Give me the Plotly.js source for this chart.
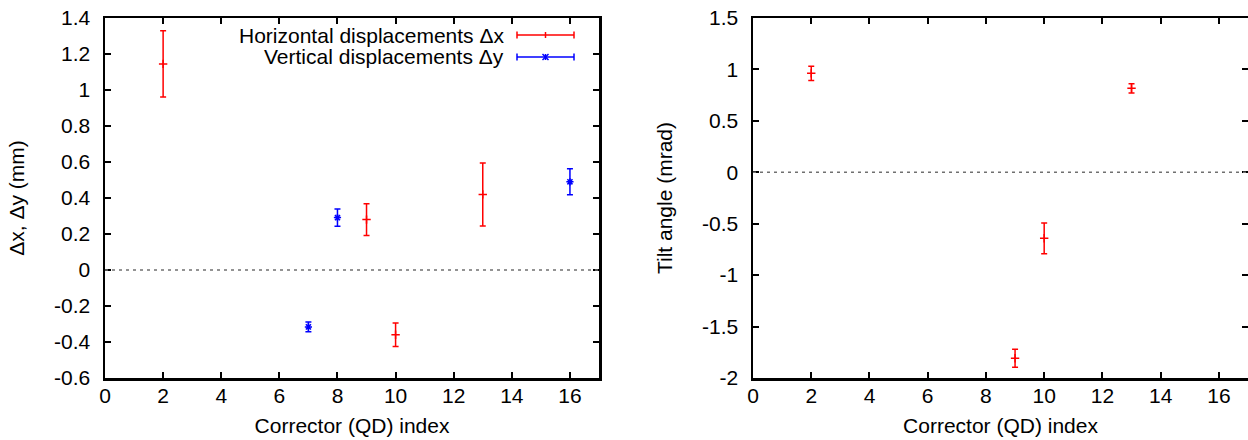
<!DOCTYPE html>
<html><head><meta charset="utf-8">
<script src="https://cdn.plot.ly/plotly-3.0.1.min.js"></script>
<style>html,body{margin:0;padding:0;background:#fff}#chart{width:1248px;height:440px}</style>
</head><body><div id="chart"></div>
<script>
// ---- data ----
const dxIndex = [2, 9, 10, 13];
const dxValue = [1.145, 0.28, -0.36, 0.42];
const dxError = [0.184, 0.088, 0.065, 0.175];

const dyIndex = [7, 8, 16];
const dyValue = [-0.316, 0.291, 0.49];
const dyError = [0.027, 0.048, 0.072];

const tiltIndex = [2, 9, 10, 13];
const tiltValue = [0.962, -1.808, -0.642, 0.816];
const tiltError = [0.07, 0.087, 0.15, 0.044];

const xTicks = [0, 2, 4, 6, 8, 10, 12, 14, 16];
const leftYTicks = [-0.6, -0.4, -0.2, 0, 0.2, 0.4, 0.6, 0.8, 1, 1.2, 1.4];
const leftYLabels = ["-0.6", "-0.4", "-0.2", "0", "0.2", "0.4", "0.6", "0.8", "1", "1.2", "1.4"];
const rightYTicks = [-2, -1.5, -1, -0.5, 0, 0.5, 1, 1.5];
const rightYLabels = ["-2", "-1.5", "-1", "-0.5", "0", "0.5", "1", "1.5"];
const seriesNames = ["Horizontal displacements \u0394x", "Vertical displacements \u0394y"];
const xTitle = "Corrector (QD) index";
const leftYTitle = "\u0394x, \u0394y (mm)";
const rightYTitle = "Tilt angle (mrad)";

// ---- layout helpers ----
const W = 1248, H = 440;
const px = v => v / W;
const py = v => 1 - v / H;
const RED = "#ff0000", BLUE = "#0000ff";
const FONT = {family: "Liberation Sans, Arial, sans-serif", size: 21, color: "#000"};

function errTrace(x, y, e, color, symbol, msize, xa, ya, name) {
  return {
    type: "scatter", mode: "markers", x: x, y: y, name: name, showlegend: false,
    xaxis: xa, yaxis: ya,
    marker: {symbol: symbol, size: msize, color: color, line: {color: color, width: 1.5}},
    error_y: {type: "data", array: e, visible: true, color: color, thickness: 1.5, width: 3}
  };
}

const traces = [
  errTrace(dxIndex, dxValue, dxError, RED, "cross-thin", 6, "x", "y", seriesNames[0]),
  errTrace(dyIndex, dyValue, dyError, BLUE, "asterisk", 6, "x", "y", seriesNames[1]),
  errTrace(tiltIndex, tiltValue, tiltError, RED, "cross-thin", 6, "x2", "y2", "Tilt")
];

function xAxis(domain, anchor) {
  return {
    domain: domain, anchor: anchor, range: [0, 17], tickvals: xTicks,
    ticks: "inside", ticklen: 6, tickwidth: 2, tickcolor: "#000",
    showline: true, linewidth: 2.5, linecolor: "#000", mirror: "allticks",
    showgrid: false, zeroline: false, tickfont: FONT, ticklabelstandoff: -3,
    title: {text: xTitle, font: FONT, standoff: 13}
  };
}
function yAxis(domain, anchor, range, vals, labels, title, standoff) {
  return {
    domain: domain, anchor: anchor, range: range, tickvals: vals, ticktext: labels,
    ticks: "inside", ticklen: 6, tickwidth: 2, tickcolor: "#000",
    showline: true, linewidth: 2.5, linecolor: "#000", mirror: "allticks",
    showgrid: false, zeroline: false, tickfont: FONT, ticklabelstandoff: 8,
    title: {text: title, font: FONT, standoff: standoff}
  };
}

const yDom = [1 - 378 / H, 1 - 18 / H];

const shapes = [
  {type: "line", xref: "x domain", yref: "y", x0: 0, x1: 1, y0: 0, y1: 0,
   line: {color: "#707070", width: 1.5, dash: "3px,4px"}},
  {type: "line", xref: "x2 domain", yref: "y2", x0: 0, x1: 1, y0: 0, y1: 0,
   line: {color: "#707070", width: 1.5, dash: "3px,4px"}}
];
const annotations = [];

// custom legend (sample on the right of text, like the reference)
const legendRows = [
  {name: seriesNames[0], color: RED, y: 35, star: false},
  {name: seriesNames[1], color: BLUE, y: 57, star: true}
];
legendRows.forEach(r => {
  annotations.push({xref: "paper", yref: "paper", x: px(506), y: py(r.y), xanchor: "right",
    yanchor: "middle", text: r.name, showarrow: false, font: FONT});
  const L = 517, R = 574, C = (L + R) / 2;
  const ln = (x0, y0, x1, y1) => shapes.push({type: "line", xref: "paper", yref: "paper",
    x0: px(x0), y0: py(y0), x1: px(x1), y1: py(y1), line: {color: r.color, width: 1.5}});
  ln(L, r.y, R, r.y);
  ln(L, r.y - 3.5, L, r.y + 3.5);
  ln(R, r.y - 3.5, R, r.y + 3.5);
  ln(C, r.y - 3, C, r.y + 3);
  if (r.star) {
    ln(C - 3, r.y - 3, C + 3, r.y + 3);
    ln(C - 3, r.y + 3, C + 3, r.y - 3);
  }
});

const layout = {
  width: W, height: H, margin: {l: 0, r: 0, t: 0, b: 0},
  paper_bgcolor: "#fff", plot_bgcolor: "#fff", showlegend: false, font: FONT,
  xaxis: xAxis([px(105), px(599)], "y"),
  yaxis: yAxis(yDom, "x", [-0.6, 1.4], leftYTicks, leftYLabels, leftYTitle, 24),
  xaxis2: xAxis([px(753), 1], "y2"),
  yaxis2: yAxis(yDom, "x2", [-2, 1.5], rightYTicks, rightYLabels, rightYTitle, 24),
  shapes: shapes, annotations: annotations
};

Plotly.newPlot("chart", traces, layout, {staticPlot: true, displayModeBar: false});
</script>
</body></html>
